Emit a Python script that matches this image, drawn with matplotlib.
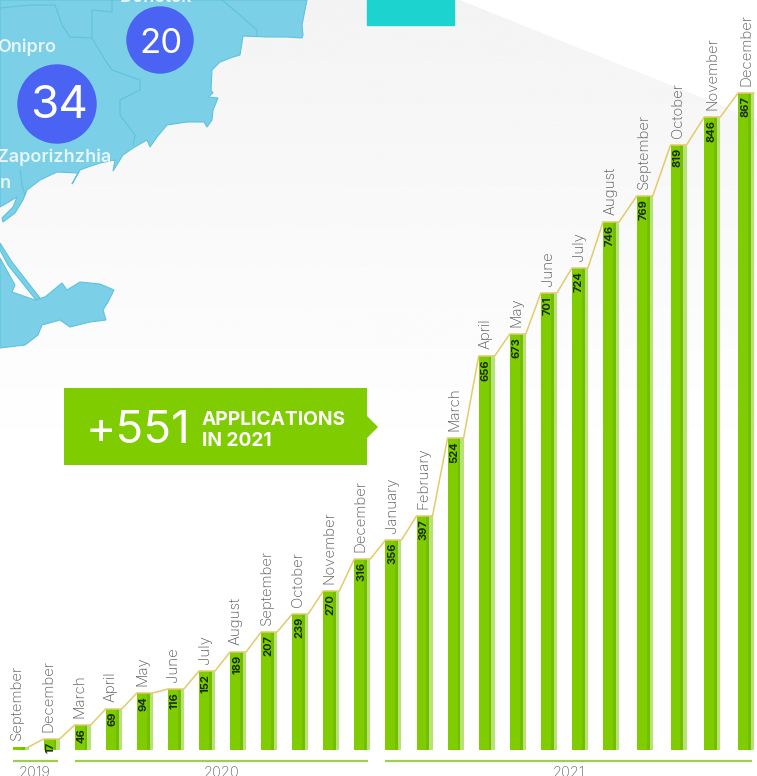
import numpy as np
from matplotlib import pyplot as plt
from matplotlib.patches import Polygon, Circle, Rectangle

months = ['September', 'December',
          'March', 'April', 'May', 'June', 'July', 'August', 'September', 'October', 'November', 'December',
          'January', 'February', 'March', 'April', 'May', 'June', 'July', 'August', 'September', 'October', 'November', 'December']
value_labels = ['', '17', '46', '69', '94', '116', '152', '189', '207', '239', '270', '316',
                '356', '397', '524', '656', '673', '701', '724', '746', '769', '819', '846', '867']
# the infographic's bars are not to scale with their labels, so drawn heights are read separately
bar_heights = [3, 11, 25, 41, 57, 61, 79, 98, 118, 136, 159, 191,
               210, 234, 312, 394, 416, 457, 482, 528, 554, 605, 633, 657]
year_names = ['2019', '2020', '2021']
year_first = [0, 2, 12]
year_last = [1, 11, 23]

map_cities = ['Donetsk', 'Onipro', 'Zaporizhzhia', 'n']
bubble_values = ['20', '34']

green = '#7FCC00'
shade_green = '#74BE00'
light_green = '#B8E276'
font = ['Inter', 'DejaVu Sans']

plt.rcParams['font.family'] = font

fig = plt.figure(figsize=(7.57, 7.76), dpi=100)

# pixel layer for the background and the map
deco = fig.add_axes([0, 0, 1, 1], zorder=1)
deco.set_xlim(0, 757)
deco.set_ylim(776, 0)
deco.axis('off')

fade = np.linspace(0.955, 1, 256).reshape(-1, 1)
bg = deco.imshow(fade, extent=[0, 757, 470, 0], cmap='gray', vmin=0, vmax=1, aspect='auto', zorder=0)
bg.set_clip_path(Polygon([(0, 0), (460, 0), (757, 120), (757, 470), (0, 470)], transform=deco.transData))
deco.set_xlim(0, 757)
deco.set_ylim(776, 0)

sea_fill = '#7BCFE6'
sea_edge = '#5FC3DE'
mainland = [(0, 0), (307, 0), (302, 25), (303, 35), (302, 38), (287, 37), (267, 37), (243, 36), (240, 55),
            (233, 57), (220, 62), (212, 70), (211, 90), (213, 93), (208, 97), (218, 98), (213, 110), (212, 120),
            (207, 127), (204, 122), (187, 122), (167, 125), (157, 137), (150, 147), (147, 140), (133, 148),
            (123, 155), (113, 171), (115, 160), (100, 163), (88, 167), (80, 170), (72, 184), (78, 173), (57, 172),
            (40, 180), (27, 190), (23, 200), (15, 213), (3, 222), (2, 218), (13, 207), (17, 197), (7, 203), (0, 207)]
crimea = [(0, 258), (15, 285), (12, 292), (35, 300), (45, 297), (62, 283), (67, 290), (80, 282), (100, 284),
          (114, 290), (108, 302), (103, 310), (106, 320), (90, 322), (70, 327), (60, 320), (42, 325), (38, 335),
          (25, 345), (0, 348)]
spit = [(0, 243), (12, 262), (40, 298), (36, 300), (8, 265), (0, 250)]
for shape in [mainland, crimea, spit]:
    deco.add_patch(Polygon(shape, closed=True, facecolor=sea_fill, edgecolor=sea_edge, lw=0.8, zorder=1))

borders = [[(0, 8), (30, 5), (55, 5), (62, 25), (70, 37), (92, 38), (105, 60), (112, 70), (140, 80), (140, 90),
            (120, 100), (120, 115), (135, 135), (133, 145)],
           [(92, 38), (92, 10), (112, 12), (112, 0)],
           [(222, 0), (240, 15), (257, 30), (257, 36)],
           [(20, 170), (22, 185), (25, 195)]]
for b in borders:
    b = np.array(b)
    deco.plot(b[:, 0], b[:, 1], color=sea_edge, lw=0.8, zorder=2)

deco.add_patch(Circle((160, 40), 33, color='#4A63F2', zorder=3))
deco.add_patch(Circle((57, 104), 39, color='#4A63F2', zorder=3))
deco.text(161, 44, bubble_values[0], color='white', fontsize=25, ha='center', va='center', zorder=4)
deco.text(59, 106, bubble_values[1], color='white', fontsize=33, ha='center', va='center', zorder=4)

city_style = dict(color='#E6F6FB', fontsize=13, fontweight='semibold', va='center', zorder=4, clip_on=True)
deco.text(156, -3, map_cities[0], ha='center', **city_style)
deco.text(-3, 47, map_cities[1], ha='left', **city_style)
deco.text(-3, 157, map_cities[2], ha='left', **city_style)
deco.text(0, 184, map_cities[3], ha='left', **city_style)

deco.add_patch(Rectangle((367, 0), 87, 25, color='#1DD3CF', zorder=3))

# callout
deco.add_patch(Polygon([(64, 388), (367, 388), (367, 416), (378, 427), (367, 438), (367, 465), (64, 465)],
                       closed=True, color=green, lw=0, zorder=3))
deco.text(86, 431, '+551', color='white', fontsize=33, ha='left', va='center', zorder=4)
deco.text(202, 420, 'APPLICATIONS', color='white', fontsize=13.8, fontweight='bold', ha='left', va='center', zorder=4)
deco.text(202, 441, 'IN 2021', color='white', fontsize=13.8, fontweight='bold', ha='left', va='center', zorder=4)

# chart layer: x in slots laid out as in the picture, y measured up from the baseline
ax = fig.add_axes([0, 0, 1, 1], zorder=2)
ax.patch.set_alpha(0)
ax.set_xlim(0, 757)
ax.set_ylim(-26, 750)
ax.axis('off')

bar_w = 16
steps = [31.08] * 19 + [33.75] * 4
x = 20.5 + np.concatenate([[0], np.cumsum(steps)])
h = np.array(bar_heights)

ax.bar(x, h, width=bar_w, color=light_green, lw=0, zorder=2)
ax.bar(x - bar_w / 2, h, width=bar_w * 0.8, align='edge', color=shade_green, lw=0, zorder=3)
ax.bar(x - bar_w / 2, h, width=bar_w * 0.62, align='edge', color=green, lw=0, zorder=3)

line_x = np.column_stack([x - bar_w / 2, x + bar_w / 2]).ravel()
line_y = np.repeat(h, 2)
ax.plot(line_x[1:], line_y[1:], color='#E2CB6A', lw=1.1, zorder=4, solid_joinstyle='round')

for i in range(len(x)):
    ax.text(x[i] - 3.2 * (1 - i / 23), h[i] + 7, months[i], rotation=90, ha='center', va='bottom',
            fontsize=10.8, fontweight='light', color='#555555', zorder=5)
    if value_labels[i]:
        ax.text(x[i] - 1, h[i] - 3, value_labels[i], rotation=90, ha='center', va='top',
                fontsize=8, fontweight='bold', color='#163000', zorder=5)

for name, first, last in zip(year_names, year_first, year_last):
    ax.plot([x[first] - bar_w / 2, x[last] + 6], [-11, -11], color='#9CCF4E', lw=1.6, zorder=2, solid_capstyle='butt')
    ax.text((x[first] - bar_w / 2 + x[last] + 6) / 2, -23, name, ha='center', va='center',
            fontsize=10.5, fontweight='light', color='#666666', zorder=5)

fig.savefig('out.png', dpi=100)
plt.close()
